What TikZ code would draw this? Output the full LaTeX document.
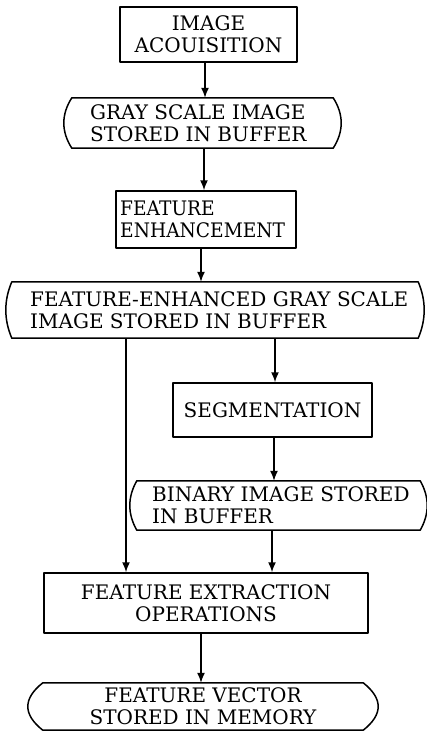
\documentclass[tikz,border=0pt]{standalone}
\usepackage{fontspec}
\setmainfont{DejaVu Serif}
\newfontfamily\narrowserif[FakeStretch=0.93]{DejaVu Serif}
\usetikzlibrary{arrows.meta,calc}
\newcommand\sidebulge[2]{%
  \draw[outline] (#1.north west) -- (#1.north east)
    .. controls ($(#1.north east)!0.333!(#1.south east)+(#2*1.333,0)$) and ($(#1.north east)!0.667!(#1.south east)+(#2*1.333,0)$) .. (#1.south east)
    -- (#1.south west)
    .. controls ($(#1.south west)!0.333!(#1.north west)+(-#2*1.333,0)$) and ($(#1.south west)!0.667!(#1.north west)+(-#2*1.333,0)$) .. (#1.north west) -- cycle;}
\begin{document}
\begin{tikzpicture}[x=1pt,y=-1pt,
  txtfont/.style={font=\fontsize{20}{22}\selectfont},
  outline/.style={draw=black, line width=1.5pt, line join=round},
  rectbox/.style={outline, inner sep=0pt, align=center, txtfont},
  shapebox/.style={draw=none, inner sep=0pt},
  lbl/.style={inner sep=0pt, anchor=west, align=left, txtfont},
  arr/.style={line width=1.5pt, -{Latex[length=10pt,width=8pt]}}]
\useasboundingbox[fill=white] (0,0) rectangle (427,739);

% boxes
\node[rectbox, minimum width=177pt, minimum height=55pt] (b1) at (208.5,34.5) {IMAGE\\ACOUISITION};

\node[shapebox, minimum width=261pt, minimum height=50pt] (b2) at (202.5,123) {};
\sidebulge{b2}{8}
\node[lbl] (t2) at (90,123) {GRAY SCALE IMAGE\\STORED IN BUFFER};

\node[rectbox, minimum width=180pt, minimum height=57pt] (b3) at (206,219.5) {};
\node[lbl, font=\fontsize{20}{22}\narrowserif] (t3) at (120,219.5) {FEATURE\\ENHANCEMENT};

\node[shapebox, minimum width=406pt, minimum height=56pt] (b4) at (215,310) {};
\sidebulge{b4}{6}
\node[lbl] (t4) at (30,310) {FEATURE-ENHANCED GRAY SCALE\\IMAGE STORED IN BUFFER};

\node[rectbox, minimum width=199pt, minimum height=54pt] (b5) at (272.5,410) {SEGMENTATION};

\node[shapebox, minimum width=283pt, minimum height=49pt] (b6) at (278.5,505.5) {};
\sidebulge{b6}{7}
\node[lbl] (t6) at (152,505.5) {BINARY IMAGE STORED\\IN BUFFER};

\node[rectbox, minimum width=324pt, minimum height=60pt] (b7) at (206,603) {FEATURE EXTRACTION\\OPERATIONS};

\node[shapebox, minimum width=320pt, minimum height=47pt, align=center, txtfont] (b8) at (203,706.5) {FEATURE VECTOR\\STORED IN MEMORY};
\sidebulge{b8}{15}

% x positions of connectors
\coordinate (xa) at (205,0);
\coordinate (xb) at (204,0);
\coordinate (xc) at (201,0);
\coordinate (xd) at (275,0);
\coordinate (xe) at (274,0);
\coordinate (xf) at (126,0);
\coordinate (xg) at (272,0);
\coordinate (xh) at (201,0);

\draw[arr] (b1.south -| xa) -- (b2.north -| xa);
\draw[arr] (b2.south -| xb) -- (b3.north -| xb);
\draw[arr] (b3.south -| xc) -- (b4.north -| xc);
\draw[arr] (b4.south -| xd) -- (b5.north -| xd);
\draw[arr] (b5.south -| xe) -- (b6.north -| xe);
\draw[arr] (b4.south -| xf) -- (b7.north -| xf);
\draw[arr] (b6.south -| xg) -- (b7.north -| xg);
\draw[arr] (b7.south -| xh) -- (b8.north -| xh);
\end{tikzpicture}
\end{document}
